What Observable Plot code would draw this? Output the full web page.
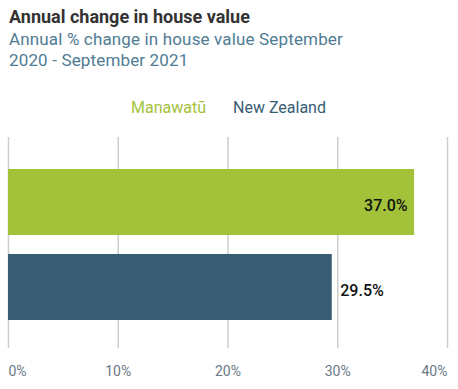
<!DOCTYPE html>
<html><head><meta charset="utf-8">
<script src="https://cdn.jsdelivr.net/npm/d3@7"></script>
<script src="https://cdn.jsdelivr.net/npm/@observablehq/plot@0.6"></script>
<style>
html,body{margin:0;padding:0;background:#fff;font-family:Roboto,"Noto Sans",sans-serif;width:458px;height:389px;overflow:hidden}
#head{position:relative;height:125px;width:458px}
#title{position:absolute;left:9px;top:6px;font-size:18px;font-weight:700;color:#333;white-space:nowrap}
#sub{position:absolute;left:9px;top:29px;font-size:17px;letter-spacing:0.15px;line-height:21px;color:#4f7c94;width:345px}
#legend{position:absolute;left:131px;top:98px;font-size:16px;white-space:nowrap}
#legend span{margin-right:27px}
#chart svg{display:block}
</style></head>
<body>
<div id="head">
  <div id="title">Annual change in house value</div>
  <div id="sub">Annual % change in house value September 2020 - September 2021</div>
  <div id="legend"></div>
</div>
<div id="chart"></div>
<script>
const categories = ["Manawatū", "New Zealand"];
const values = [37.0, 29.5];
const colors = ["#a3c23a", "#375c74"];
const xTicks = [0, 10, 20, 30, 40];
const tickLabels = ["0%", "10%", "20%", "30%", "40%"];

const data = categories.map((c, i) => ({name: c, value: values[i]}));

const legend = document.getElementById("legend");
categories.forEach((c, i) => {
  const s = document.createElement("span");
  s.textContent = c;
  s.style.color = colors[i];
  legend.appendChild(s);
});

const fmt = d => tickLabels[xTicks.indexOf(d)];
const axisOpts = {tickSize: 0, tickPadding: 18, fontSize: 14, fill: "#6b7884", tickFormat: fmt, label: null};

const chart = Plot.plot({
  width: 458,
  height: 264,
  marginTop: 12,
  marginBottom: 41,
  marginLeft: 8,
  marginRight: 11,
  style: {fontFamily: "Roboto, sans-serif", background: "#fff"},
  x: {domain: [0, 40], axis: null},
  y: {domain: categories, axis: null, paddingInner: 0.22, paddingOuter: 0.35, align: 0.54},
  color: {domain: categories, range: colors},
  marks: [
    Plot.gridX(xTicks, {stroke: "#cccccc", strokeOpacity: 1, strokeWidth: 1.5}),
    Plot.barX(data, {x: "value", y: "name", fill: "name"}),
    Plot.text(data.filter(d => d.value >= 35), {x: "value", y: "name", text: d => d.value.toFixed(1) + "%", textAnchor: "end", dx: -7, dy: 3, fontSize: 16, fontWeight: 500, fill: "#111"}),
    Plot.text(data.filter(d => d.value < 35), {x: "value", y: "name", text: d => d.value.toFixed(1) + "%", textAnchor: "start", dx: 8, dy: 3, fontSize: 16, fontWeight: 500, fill: "#111"}),
    Plot.axisX([xTicks[0]], {...axisOpts, textAnchor: "start"}),
    Plot.axisX(xTicks.slice(1, -1), {...axisOpts, textAnchor: "middle"}),
    Plot.axisX([xTicks[xTicks.length - 1]], {...axisOpts, textAnchor: "end"})
  ]
});
document.getElementById("chart").appendChild(chart);
</script>
</body></html>
